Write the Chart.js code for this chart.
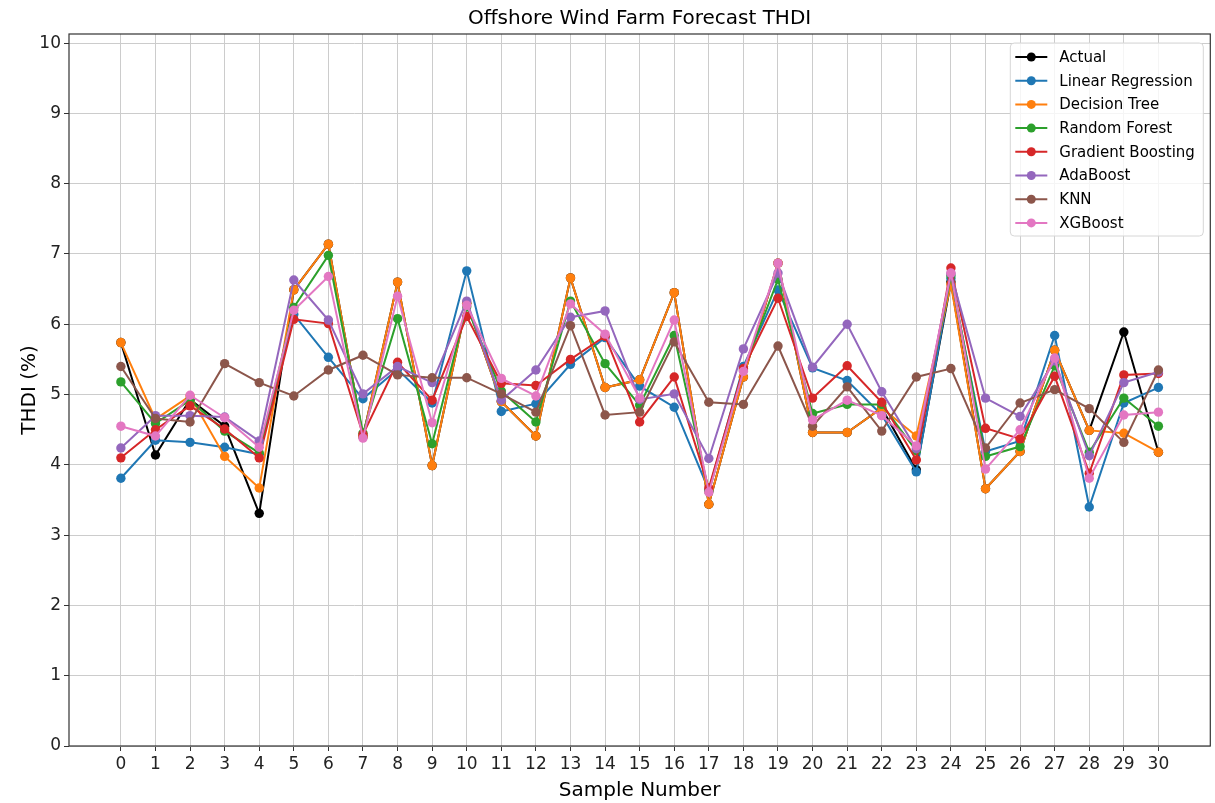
<!DOCTYPE html>
<html>
<head>
    <meta charset="utf-8" />
    <title>Offshore Wind Farm Forecast THDI</title>
    <script src="https://cdn.jsdelivr.net/npm/chart.js"></script>
    <style>
        html, body { margin: 0; padding: 0; background: #fff; }
        #wrap { width: 1215px; height: 803px; }
    </style>
</head>
<body>
    <div id="wrap"><canvas id="thdiChart"></canvas></div>
    <script>
        // sample numbers and THDI (%) per model
        const samples = [0, 1, 2, 3, 4, 5, 6, 7, 8, 9, 10, 11, 12, 13, 14, 15, 16, 17, 18, 19, 20, 21, 22, 23, 24, 25, 26, 27, 28, 29, 30];
        const yTicks = [0, 1, 2, 3, 4, 5, 6, 7, 8, 9, 10];

        const actual = [5.74, 4.14, 4.93, 4.55, 3.31, 6.49, 7.14, 4.40, 6.60, 3.99, 6.30, 4.90, 4.41, 6.66, 5.10, 5.21, 6.45, 3.44, 5.25, 6.87, 4.46, 4.46, 4.81, 3.93, 6.60, 3.66, 4.19, 5.63, 4.49, 5.89, 4.18];
        const linearRegression = [3.81, 4.35, 4.32, 4.25, 4.15, 6.14, 5.53, 4.94, 5.36, 4.88, 6.76, 4.76, 4.87, 5.43, 5.81, 5.12, 4.82, 3.64, 5.40, 6.49, 5.38, 5.20, 4.71, 3.90, 6.65, 4.19, 4.34, 5.84, 3.40, 4.88, 5.10];
        const decisionTree = [5.74, 4.65, 4.98, 4.12, 3.67, 6.49, 7.14, 4.40, 6.60, 3.99, 6.30, 4.90, 4.41, 6.66, 5.10, 5.21, 6.45, 3.44, 5.25, 6.87, 4.46, 4.46, 4.81, 4.41, 6.57, 3.66, 4.19, 5.63, 4.49, 4.45, 4.18];
        const randomForest = [5.18, 4.59, 4.92, 4.48, 4.17, 6.24, 6.98, 4.45, 6.08, 4.30, 6.25, 5.05, 4.61, 6.33, 5.44, 4.85, 5.84, 3.62, 5.35, 6.64, 4.73, 4.86, 4.86, 4.20, 6.69, 4.12, 4.26, 5.41, 4.18, 4.95, 4.55];
        const gradientBoosting = [4.10, 4.50, 4.84, 4.51, 4.10, 6.07, 6.01, 4.43, 5.46, 4.92, 6.11, 5.16, 5.13, 5.50, 5.83, 4.61, 5.25, 3.67, 5.37, 6.37, 4.95, 5.41, 4.89, 4.07, 6.80, 4.52, 4.37, 5.26, 3.88, 5.28, 5.30];
        const adaBoost = [4.24, 4.70, 4.70, 4.68, 4.34, 6.63, 6.06, 5.01, 5.40, 5.17, 6.33, 4.92, 5.35, 6.10, 6.19, 4.93, 5.01, 4.09, 5.65, 6.73, 5.39, 6.00, 5.04, 4.23, 6.72, 4.95, 4.69, 5.48, 4.13, 5.17, 5.32];
        const knn = [5.40, 4.66, 4.61, 5.44, 5.17, 4.98, 5.35, 5.56, 5.28, 5.24, 5.24, 5.01, 4.75, 5.98, 4.71, 4.75, 5.75, 4.89, 4.86, 5.69, 4.55, 5.11, 4.48, 5.25, 5.37, 4.24, 4.88, 5.07, 4.80, 4.32, 5.35];
        const xgBoost = [4.55, 4.41, 4.99, 4.67, 4.25, 6.20, 6.68, 4.38, 6.40, 4.60, 6.27, 5.23, 4.98, 6.29, 5.86, 4.95, 6.06, 3.61, 5.33, 6.87, 4.64, 4.92, 4.70, 4.27, 6.73, 3.94, 4.50, 5.52, 3.81, 4.71, 4.75];

        const seriesNames = ['Actual', 'Linear Regression', 'Decision Tree', 'Random Forest', 'Gradient Boosting', 'AdaBoost', 'KNN', 'XGBoost'];
        const seriesValues = [actual, linearRegression, decisionTree, randomForest, gradientBoosting, adaBoost, knn, xgBoost];
        const seriesColors = ['#000000', '#1f77b4', '#ff7f0e', '#2ca02c', '#d62728', '#9467bd', '#8c564b', '#e377c2'];

        const FONT = 'DejaVu Sans, sans-serif';

        const datasets = seriesNames.map((name, i) => ({
            label: name,
            data: samples.map((s, j) => ({ x: s, y: seriesValues[i][j] })),
            borderColor: seriesColors[i],
            backgroundColor: seriesColors[i],
            pointBackgroundColor: seriesColors[i],
            pointBorderColor: seriesColors[i],
            borderWidth: 2,
            pointRadius: 4.7,
            pointBorderWidth: 0,
            tension: 0,
            // later series sit on top, like the original plot order
            order: seriesNames.length - i
        }));

        // frame, title and boxed legend drawn on top of the chart
        const decorations = {
            id: 'decorations',
            afterDraw(chart) {
                const ctx = chart.ctx;
                const a = chart.chartArea;
                ctx.save();

                ctx.strokeStyle = '#333333';
                ctx.lineWidth = 1.2;
                ctx.strokeRect(a.left, a.top, a.right - a.left, a.bottom - a.top);

                ctx.fillStyle = '#000';
                ctx.font = '20px ' + FONT;
                ctx.textAlign = 'center';
                ctx.textBaseline = 'middle';
                ctx.fillText('Offshore Wind Farm Forecast THDI', (a.left + a.right) / 2, 19);

                const bx = a.right - 200, by = a.top + 9, bw = 193, bh = 193;
                ctx.beginPath();
                ctx.roundRect(bx, by, bw, bh, 4);
                ctx.fillStyle = 'rgba(255,255,255,0.8)';
                ctx.fill();
                ctx.strokeStyle = '#d6d6d6';
                ctx.lineWidth = 1;
                ctx.stroke();

                ctx.font = '15px ' + FONT;
                ctx.textAlign = 'left';
                chart.data.datasets.forEach((ds, i) => {
                    const y = by + 14 + i * 23.7;
                    ctx.strokeStyle = ds.borderColor;
                    ctx.lineWidth = 2;
                    ctx.beginPath();
                    ctx.moveTo(bx + 5, y);
                    ctx.lineTo(bx + 37, y);
                    ctx.stroke();
                    ctx.fillStyle = ds.borderColor;
                    ctx.beginPath();
                    ctx.arc(bx + 21, y, 4.5, 0, Math.PI * 2);
                    ctx.fill();
                    ctx.fillStyle = '#000';
                    ctx.fillText(ds.label, bx + 49, y + 1);
                });
                ctx.restore();
            }
        };

        new Chart(document.getElementById('thdiChart'), {
            type: 'line',
            data: { datasets: datasets },
            plugins: [decorations],
            options: {
                responsive: true,
                maintainAspectRatio: false,
                animation: false,
                layout: { padding: { top: 34, right: 4, left: 0, bottom: 0 } },
                plugins: {
                    legend: { display: false },
                    title: { display: false },
                    tooltip: { enabled: false }
                },
                scales: {
                    x: {
                        type: 'linear',
                        min: -1.5,
                        max: 31.5,
                        afterBuildTicks: axis => { axis.ticks = samples.map(v => ({ value: v })); },
                        afterFit: scale => { scale.height = 57; },
                        grid: { color: '#cccccc', lineWidth: 1, drawTicks: true, tickLength: 5, tickColor: '#333333' },
                        border: { display: false },
                        ticks: { color: '#222', font: { family: FONT, size: 17 }, padding: 3, maxRotation: 0, autoSkip: false },
                        title: { display: true, text: 'Sample Number', color: '#000', font: { family: FONT, size: 20 }, padding: { top: 4, bottom: 0 } }
                    },
                    y: {
                        type: 'linear',
                        min: 0,
                        max: 10.13,
                        afterBuildTicks: axis => { axis.ticks = yTicks.map(v => ({ value: v })); },
                        afterFit: scale => { scale.width = 69; },
                        grid: { color: '#cccccc', lineWidth: 1, drawTicks: true, tickLength: 5, tickColor: '#333333' },
                        border: { display: false },
                        ticks: { color: '#222', font: { family: FONT, size: 17 }, padding: 3 },
                        title: { display: true, text: 'THDI (%)', color: '#000', font: { family: FONT, size: 20 }, padding: { top: 18, bottom: 0 } }
                    }
                }
            }
        });
    </script>
</body>
</html>
